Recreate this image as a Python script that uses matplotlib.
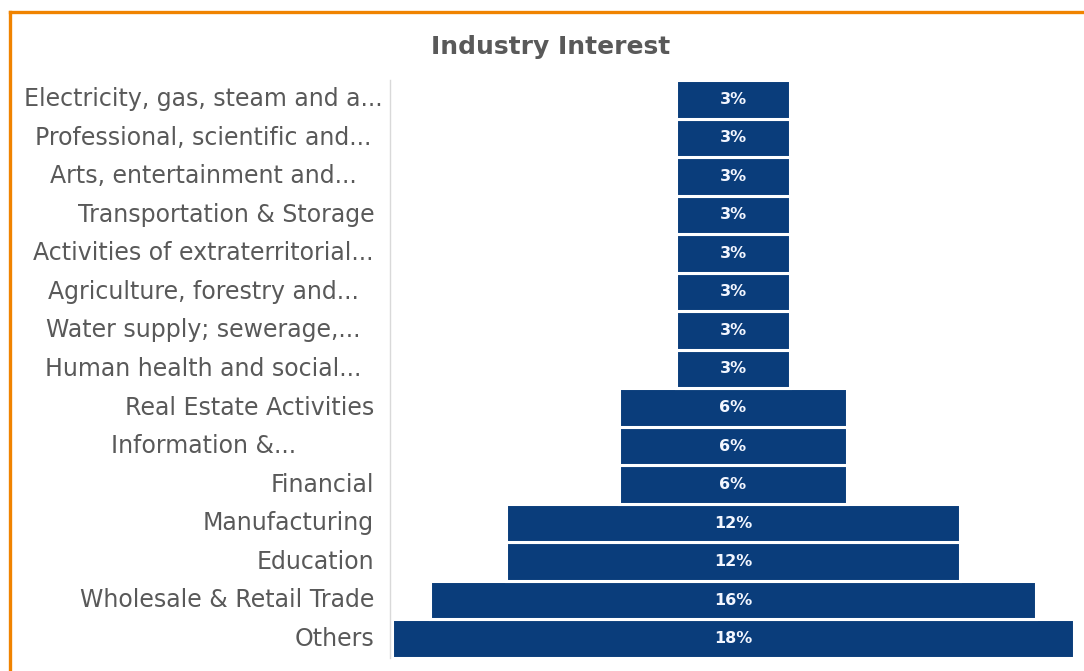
import numpy as np
import matplotlib.pyplot as plt
from matplotlib.lines import Line2D

industries = [
    'Others',
    'Wholesale & Retail Trade',
    'Education',
    'Manufacturing',
    'Financial',
    'Information &...',
    'Real Estate Activities',
    'Human health and social...',
    'Water supply; sewerage,...',
    'Agriculture, forestry and...',
    'Activities of extraterritorial...',
    'Transportation & Storage',
    'Arts, entertainment and...',
    'Professional, scientific and...',
    'Electricity, gas, steam and a...',
]
shares = [18, 16, 12, 12, 6, 6, 6, 3, 3, 3, 3, 3, 3, 3, 3]

navy = '#0A3D7B'
grey = '#595959'

fig = plt.figure(figsize=(10.84, 6.71), dpi=100)
ax = fig.add_axes([0.3598, 0.0194, 0.6328, 0.8614])

vals = np.array(shares, dtype=float)
ypos = np.arange(len(industries))

# centred bars give the funnel shape
bars = ax.barh(ypos, vals, left=-vals / 2, height=1.0, color=navy,
               edgecolor='white', linewidth=2.2)
for y, v in zip(ypos, shares):
    ax.text(0, y, f'{v}%', ha='center', va='center', color='#F2F6FF',
            fontsize=11.5, fontweight='bold', family='Liberation Sans Narrow')

ax.set_xlim(-9.05, 9.05)
ax.set_ylim(-0.5, len(industries) - 0.5)
ax.set_yticks([])
ax.set_xticks([])

# category labels: shortened names sit centred in the label column,
# full names are right-aligned against the axis
ytrans = ax.get_yaxis_transform()
for y, name in zip(ypos, industries):
    if name.endswith('...'):
        ax.text(-0.272, y, name, ha='center', va='center', transform=ytrans,
                fontsize=17, color=grey, family='DejaVu Sans')
    else:
        ax.text(-0.023, y, name, ha='right', va='center', transform=ytrans,
                fontsize=17, color=grey, family='DejaVu Sans')

for side in ['top', 'right', 'bottom']:
    ax.spines[side].set_visible(False)
ax.spines['left'].set_color('#D9D9D9')
ax.spines['left'].set_linewidth(1)

fig.text(0.508, 0.93, 'Industry Interest', ha='center', va='center',
         fontsize=18, fontweight='bold', color=grey, family='DejaVu Sans')

# orange frame around the chart
fig.add_artist(Line2D([9.5 / 1084, 9.5 / 1084], [1 - 11.5 / 671, -0.1],
                      transform=fig.transFigure, color='#F08300', linewidth=2.4))
fig.add_artist(Line2D([9.5 / 1084, 1.1], [1 - 11.5 / 671, 1 - 11.5 / 671],
                      transform=fig.transFigure, color='#F08300', linewidth=2.4))

fig.savefig('out.png', dpi=100)
